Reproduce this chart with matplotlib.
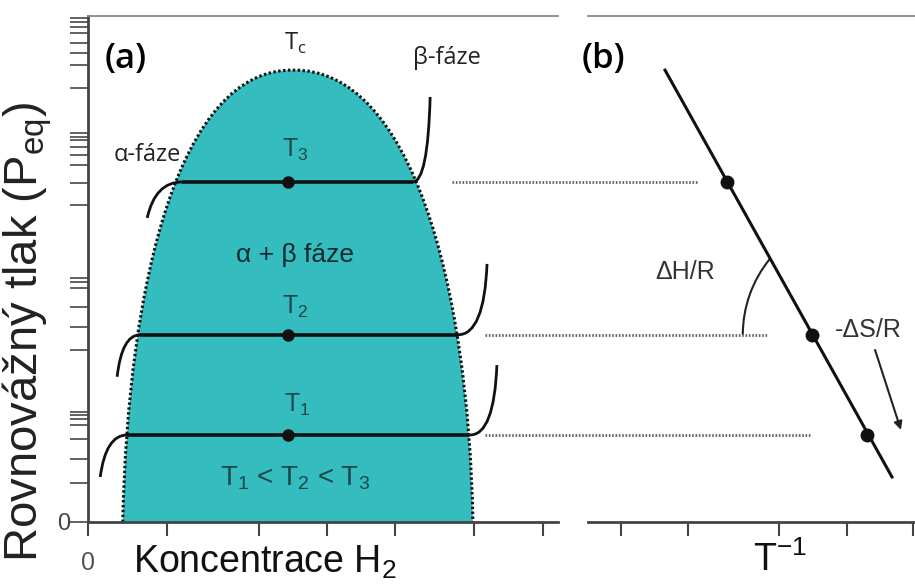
import numpy as np
import matplotlib.pyplot as plt
from matplotlib.path import Path
from matplotlib.patches import PathPatch, Arc

plt.rcParams['font.family'] = ['Liberation Sans', 'DejaVu Sans']

# panel (a) - two phase dome, cubic bezier control points (koncentrace, tlak)
dome_x = [7.4, 8.5, 19.6, 43.6, 68.5, 80.9, 81.9]
dome_y = [0, 47.8, 89.7, 89.3, 89.7, 47.8, 0]

# izotermy T1, T2, T3
plateau_p = [17.2, 37.0, 67.2]
plateau_left = [8.3, 11.1, 20.0]
plateau_right = [81.3, 78.7, 69.1]
dot_x = 42.6
# alfa a beta vetve (start, control, end)
alpha_x = [[2.6, 3.8, 8.3], [6.2, 7.2, 11.1], [12.6, 14.3, 20.0]]
alpha_y = [[8.9, 17.2, 17.2], [28.7, 37.0, 37.0], [60.1, 67.2, 67.2]]
beta_x = [[81.3, 86.4, 87.0], [78.7, 84.3, 84.9], [69.1, 72.3, 72.8]]
beta_y = [[17.2, 17.2, 31.0], [37.0, 37.0, 51.0], [67.2, 67.2, 84.0]]

xticks_a = [0, 16.8, 36.4, 50.9, 65.3, 82.1, 96.8]
yticks_a = [0, 7.7, 12.5, 16.4, 19.2, 20.4, 21.1, 21.7, 34.0, 38.5, 42.5, 46.2,
            47.4, 48.2, 62.6, 67.0, 70.6, 72.5, 74.1, 75.5, 76.1, 76.9, 85.8,
            90.3, 92.7, 94.7, 96.6, 97.8, 98.8, 99.6]

# panel (b) - van't Hoff
line_x = [16.4, 64.7]
line_y = [89.3, 8.9]
inv_t = [59.4, 47.7, 29.6]
guide_start = [-21.9, -21.9, -28.9]
guide_end = [47.2, 38.1, 23.4]
xticks_b = [7.0, 21.3, 40.6, 55.1, 69.1]

teal = '#35bcbe'
dark = '#1d474c'

fig = plt.figure(figsize=(9.15, 5.86), dpi=100)
ax1 = fig.add_axes([88/915, 64/586, 470/915, 506/586])
ax2 = fig.add_axes([588/915, 64/586, 327/915, 506/586])

# ---- (a)
verts = list(zip(dome_x, dome_y))
codes = [Path.MOVETO] + [Path.CURVE4] * 6
fill = Path(verts + [verts[0]], codes + [Path.CLOSEPOLY])
ax1.add_patch(PathPatch(fill, facecolor=teal, edgecolor='none', zorder=1))
ax1.add_patch(PathPatch(Path(verts, codes), fill=False, edgecolor='#111',
                        lw=2.2, linestyle=(0, (0.8, 0.8)), zorder=2))

quad = [Path.MOVETO, Path.CURVE3, Path.CURVE3]
for i in range(3):
    ax1.plot([plateau_left[i], plateau_right[i]], [plateau_p[i]] * 2,
             color='#111', lw=2.6, zorder=3, solid_capstyle='butt')
    ax1.add_patch(PathPatch(Path(list(zip(alpha_x[i], alpha_y[i])), quad),
                            fill=False, edgecolor='#111', lw=2, zorder=3))
    ax1.add_patch(PathPatch(Path(list(zip(beta_x[i], beta_y[i])), quad),
                            fill=False, edgecolor='#111', lw=2, zorder=3))
ax1.plot([dot_x] * 3, plateau_p, 'o', color='#111', ms=8, zorder=4)

osans = ['Open Sans', 'DejaVu Sans']
ax1.text(8.1, 91.5, '(a)', fontsize=25, family=osans,
         fontweight='semibold', ha='center', va='center')
ax1.text(44.0, 94.5, 'T$_\\mathregular{c}$', fontsize=17, color='#222',
         family=osans, ha='center', va='center')
ax1.text(76.4, 91.7, 'β-fáze', fontsize=17, color='#222',
         family=osans, ha='center', va='center')
ax1.text(12.6, 72.5, 'α-fáze', fontsize=17, color='#222',
         family=osans, ha='center', va='center')
ax1.text(44.0, 73.5, 'T$_\\mathregular{3}$', fontsize=18, color=dark, ha='center', va='center')
ax1.text(44.0, 52.8, 'α + β fáze', fontsize=19, color='#0f2a2e', ha='center', va='center')
ax1.text(44.0, 42.5, 'T$_\\mathregular{2}$', fontsize=18, color=dark, ha='center', va='center')
ax1.text(44.5, 23.1, 'T$_\\mathregular{1}$', fontsize=18, color=dark, ha='center', va='center')
ax1.text(44.0, 8.7, 'T$_\\mathregular{1}$ < T$_\\mathregular{2}$ < T$_\\mathregular{3}$',
         fontsize=20, color=dark, ha='center', va='center')

ax1.set_xlim(0, 100)
ax1.set_ylim(0, 100)
ax1.set_xticks(xticks_a)
ax1.set_xticklabels(['0'] + [''] * (len(xticks_a) - 1), fontsize=18)
ax1.set_yticks(yticks_a)
ax1.set_yticklabels(['0'] + [''] * (len(yticks_a) - 1), fontsize=17)
ax1.tick_params(axis='x', direction='out', length=10, width=1.5, colors='#444',
                pad=11, labelcolor='#555')
ax1.tick_params(axis='y', direction='out', length=13, width=1.3, colors='#555',
                pad=0, labelcolor='#444')
ax1.spines['right'].set_visible(False)
for s in ['left', 'bottom']:
    ax1.spines[s].set_linewidth(2)
    ax1.spines[s].set_color('#444')
ax1.spines['top'].set_linewidth(1.3)
ax1.spines['top'].set_color('#888')

# ---- (b)
ax2.plot(line_x, line_y, color='#111', lw=2.2, zorder=3)
ax2.plot(inv_t, plateau_p, 'o', color='#111', ms=9, zorder=4)
for i in range(3):
    ax2.plot([guide_start[i], guide_end[i]], [plateau_p[i]] * 2, color='#666',
             lw=2, linestyle=(0, (0.6, 0.6)), clip_on=False, zorder=2)
ax2.add_patch(Arc((58.5, 37.0), 51.1, 47.4, theta1=143, theta2=180,
                  color='#222', lw=1.5))
ax2.annotate('', xy=(66.6, 18.2), xytext=(61.1, 34.0),
             arrowprops=dict(arrowstyle='-|>', color='#222', lw=1.5,
                             mutation_scale=12, shrinkA=0, shrinkB=0))
ax2.text(20.6, 49.4, 'ΔH/R', fontsize=18, color='#333', ha='center', va='center')
ax2.text(59.6, 37.9, '-ΔS/R', fontsize=18, color='#333', ha='center', va='center')
ax2.text(3.2, 91.5, '(b)', fontsize=25, family=osans,
         fontweight='semibold', ha='center', va='center', clip_on=False)

ax2.set_xlim(0, 69.6)
ax2.set_ylim(0, 100)
ax2.set_xticks(xticks_b)
ax2.set_xticklabels([])
ax2.set_yticks([])
ax2.tick_params(axis='x', direction='out', length=10, width=1.5, colors='#444')
ax2.spines['left'].set_visible(False)
ax2.spines['right'].set_visible(False)
ax2.spines['bottom'].set_linewidth(2)
ax2.spines['bottom'].set_color('#444')
ax2.spines['top'].set_linewidth(1.3)
ax2.spines['top'].set_color('#888')

fig.text(265/915, 1 - 562/586, 'Koncentrace H$_\\mathregular{2}$', fontsize=27,
         color='#111', ha='center', va='center')
fig.text(780/915, 1 - 560/586, 'T$^\\mathregular{-1}$', fontsize=27,
         color='#111', ha='center', va='center')
fig.text(27/915, 1 - 332/586, 'Rovnovážný tlak (P$_\\mathregular{eq}$)', fontsize=34,
         color='#222', rotation=90, ha='center', va='center')

fig.savefig('out.png', dpi=100)
